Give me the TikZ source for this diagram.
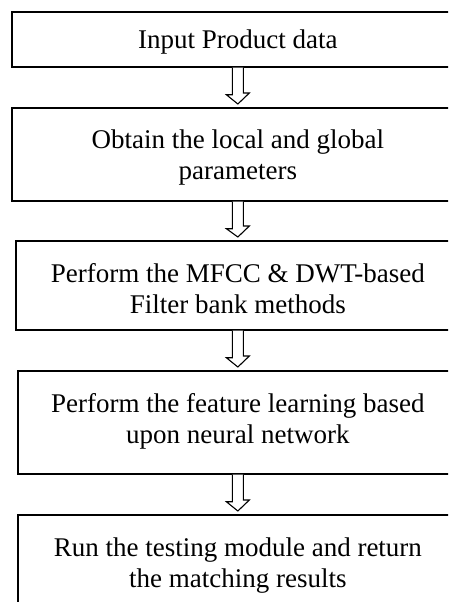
\documentclass[tikz,border=0pt]{standalone}
\usepackage{fontspec}
\setmainfont{Liberation Serif}
\usetikzlibrary{calc,positioning}

\begin{document}
\begin{tikzpicture}[
    x=1pt, y=-1pt,
    % Styles of the boxes
    step box/.style={draw=black, line width=1.7pt, inner sep=0pt, anchor=north west},
    step text/.style={inner sep=0pt, align=center, font=\fontsize{27}{31}\selectfont},
    % Style of the hollow arrows
    hollow arrow/.style={draw=black, line width=1.1pt, line join=miter, fill=white}
]
\useasboundingbox (0,0) rectangle (448,602);
\clip (0,0) rectangle (448,602);

% 1. Boxes (right side runs off the page)
\node[step box, minimum width=452, minimum height=55]  (b1) at (11,11)  {};
\node[step box, minimum width=452, minimum height=93]  (b2) at (11,107) {};
\node[step box, minimum width=444, minimum height=89]  (b3) at (15,240) {};
\node[step box, minimum width=440, minimum height=103] (b4) at (17,370) {};
\node[step box, minimum width=440, minimum height=120] (b5) at (17,514) {};

% 2. Texts, hanging from the top of each box
\node[step text, below=18.6pt of b1.north] (t1) {Input Product data};
\node[step text, below=22.6pt of b2.north] (t2) {Obtain the local and global\\parameters};
\node[step text, below=23.6pt of b3.north] (t3) {Perform the MFCC \& DWT-based\\Filter bank methods};
\node[step text, below=23.6pt of b4.north] (t4) {Perform the feature learning based\\upon neural network};
\node[step text, below=23.6pt of b5.north] (t5) {Run the testing module and return\\the matching results};

% 3. Hollow arrows between the boxes
\foreach \a/\b in {b1/b2, b2/b3, b3/b4, b4/b5} {
    \draw[hollow arrow] ($(\a.south)+(-5.5,0)$) -- ++(0,27) -- ++(-6,0)
        -- ($(\b.north)+(0,-3)$) -- ++(11.5,-11) -- ++(-6,0) -- ($(\a.south)+(5.5,0)$);
}

\end{tikzpicture}
\end{document}
